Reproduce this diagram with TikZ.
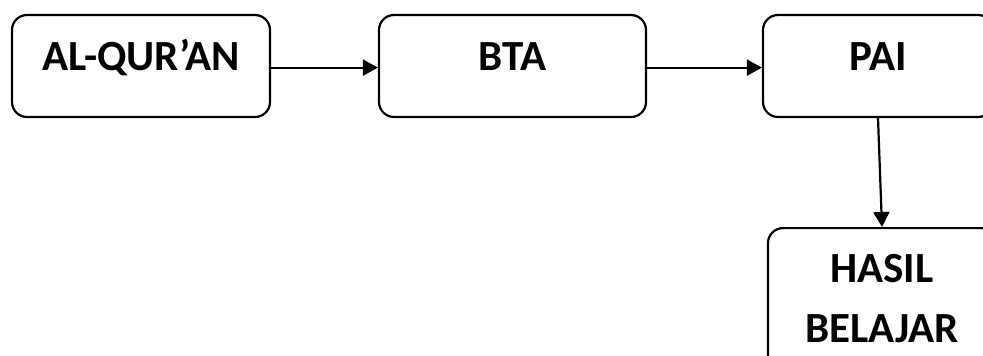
\documentclass[tikz,border=0pt]{standalone}
\usepackage{fontspec}
\setmainfont{Carlito}
\usetikzlibrary{arrows.meta}
\begin{document}
\begin{tikzpicture}[x=1pt,y=-1pt,
  box/.style={draw=black, line width=2.2pt, rounded corners=15pt, inner sep=0pt,
    font=\fontsize{43}{60}\selectfont\bfseries, align=center},
  onebox/.style={box, minimum height=102pt, text height=27pt, text depth=19pt},
  arr/.style={line width=2.2pt, -{Triangle[length=15pt,width=16pt]}}]
\useasboundingbox[clip] (0,0) rectangle (983,356);
\node[onebox, minimum width=258pt] (quran) at (141,66) {AL-QUR’AN};
\node[onebox, minimum width=267pt] (bta) at (512.5,66) {BTA};
\node[onebox, minimum width=230pt] (pai) at (878,66) {PAI};
\node[box, minimum width=228pt, anchor=north, text height=114pt, text depth=30pt] (hasil) at (882,227) {HASIL\\BELAJAR};
\draw[arr] (quran.mid east) -- (bta.mid west);
\draw[arr] (bta.mid east) -- (pai.mid west);
\draw[arr] (pai.south) -- (hasil.north);
\end{tikzpicture}
\end{document}
